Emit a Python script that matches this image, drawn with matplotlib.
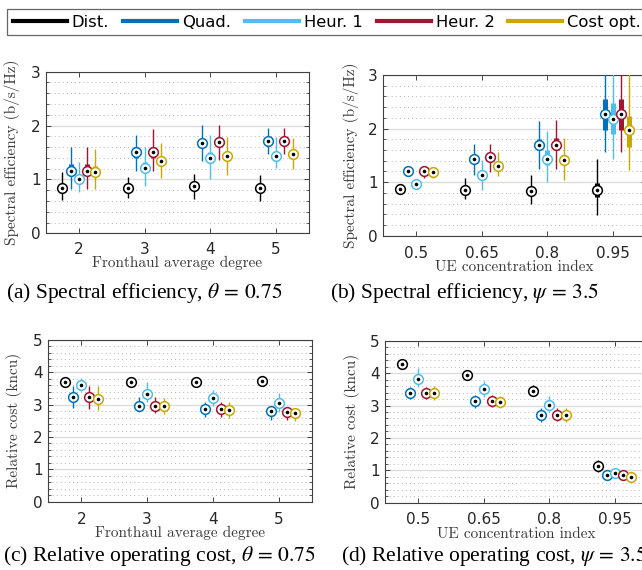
import matplotlib
matplotlib.use('Agg')
import matplotlib.pyplot as plt
from matplotlib.lines import Line2D
from matplotlib.ticker import MultipleLocator, NullLocator
import numpy as np

plt.rcParams['mathtext.fontset'] = 'stix'

# ---------------- data ----------------
methods = ['Dist.', 'Quad.', 'Heur. 1', 'Heur. 2', 'Cost opt.']
colors = ['#000000', '#0072BD', '#4DBEEE', '#A2142F', '#C9A800']

degree_ticks = [2, 3, 4, 5]
concentration_labels = ['0.5', '0.65', '0.8', '0.95']

# (a) spectral efficiency vs fronthaul degree  (rows: methods, cols: degree)
a_med = [[0.85, 0.84, 0.88, 0.85], [1.16, 1.51, 1.68, 1.72], [1.00, 1.22, 1.40, 1.44],
         [1.16, 1.51, 1.69, 1.72], [1.13, 1.34, 1.44, 1.47]]
a_q1 = [[0.80, 0.80, 0.83, 0.80], [1.09, 1.39, 1.62, 1.66], [0.94, 1.16, 1.33, 1.39],
        [1.09, 1.39, 1.63, 1.66], [1.07, 1.28, 1.38, 1.41]]
a_q3 = [[0.90, 0.89, 0.93, 0.90], [1.29, 1.60, 1.74, 1.78], [1.06, 1.32, 1.51, 1.50],
        [1.29, 1.60, 1.75, 1.78], [1.25, 1.40, 1.50, 1.53]]
a_lo = [[0.62, 0.65, 0.63, 0.60], [0.83, 1.16, 1.34, 1.47], [0.76, 0.87, 1.00, 1.22],
        [0.83, 1.16, 1.36, 1.48], [0.82, 1.03, 1.09, 1.20]]
a_hi = [[1.14, 1.05, 1.11, 1.08], [1.60, 1.82, 2.01, 1.95], [1.33, 1.60, 1.83, 1.79],
        [1.60, 1.94, 2.01, 1.95], [1.56, 1.68, 1.79, 1.77]]

# (b) spectral efficiency vs UE concentration index
b_med = [[0.87, 0.85, 0.83, 0.86], [1.21, 1.44, 1.69, 2.28], [0.96, 1.13, 1.44, 2.18],
         [1.21, 1.46, 1.69, 2.28], [1.19, 1.31, 1.41, 1.98]]
b_q1 = [[0.84, 0.80, 0.78, 0.73], [1.17, 1.38, 1.60, 1.97], [0.92, 1.07, 1.32, 1.90],
        [1.17, 1.40, 1.60, 1.97], [1.15, 1.25, 1.34, 1.65]]
b_q3 = [[0.90, 0.90, 0.88, 0.99], [1.25, 1.50, 1.81, 2.55], [1.00, 1.19, 1.60, 2.47],
        [1.25, 1.52, 1.82, 2.55], [1.23, 1.37, 1.50, 2.23]]
b_lo = [[0.83, 0.68, 0.59, 0.39], [1.15, 1.13, 1.24, 1.57], [0.91, 0.85, 1.01, 1.43],
        [1.08, 1.19, 1.24, 1.57], [1.07, 1.11, 1.04, 1.23]]
b_hi = [[0.91, 1.07, 1.13, 1.43], [1.27, 1.71, 2.14, 3.30], [1.01, 1.41, 1.95, 3.30],
        [1.29, 1.71, 2.16, 3.30], [1.26, 1.56, 1.82, 3.30]]

# (c) relative operating cost vs fronthaul degree
c_med = [[3.71, 3.71, 3.71, 3.72], [3.25, 2.97, 2.87, 2.79], [3.62, 3.33, 3.20, 3.06],
         [3.25, 2.97, 2.86, 2.77], [3.18, 2.95, 2.84, 2.74]]
c_q1 = [[3.68, 3.68, 3.68, 3.69], [3.18, 2.91, 2.81, 2.73], [3.56, 3.27, 3.14, 3.00],
        [3.18, 2.91, 2.80, 2.71], [3.12, 2.89, 2.78, 2.68]]
c_q3 = [[3.74, 3.74, 3.74, 3.75], [3.32, 3.03, 2.93, 2.85], [3.68, 3.39, 3.26, 3.12],
        [3.32, 3.03, 2.92, 2.83], [3.24, 3.01, 2.90, 2.80]]
c_lo = [[3.66, 3.66, 3.66, 3.67], [2.89, 2.77, 2.61, 2.54], [3.43, 3.09, 2.97, 2.77],
        [2.87, 2.74, 2.61, 2.54], [2.84, 2.72, 2.59, 2.51]]
c_hi = [[3.76, 3.76, 3.76, 3.77], [3.59, 3.23, 3.07, 2.94], [3.82, 3.69, 3.46, 3.35],
        [3.59, 3.23, 3.09, 2.90], [3.58, 3.21, 3.07, 2.90]]

# (d) relative operating cost vs UE concentration index
d_med = [[4.28, 3.94, 3.46, 1.14], [3.40, 3.14, 2.72, 0.85], [3.81, 3.50, 3.02, 0.92],
         [3.40, 3.14, 2.72, 0.86], [3.40, 3.12, 2.70, 0.79]]
d_q1 = [[4.25, 3.91, 3.40, 1.08], [3.34, 3.08, 2.66, 0.82], [3.75, 3.44, 2.96, 0.89],
        [3.34, 3.08, 2.66, 0.83], [3.34, 3.06, 2.64, 0.76]]
d_q3 = [[4.31, 3.97, 3.52, 1.20], [3.46, 3.20, 2.78, 0.88], [3.87, 3.56, 3.08, 0.95],
        [3.46, 3.20, 2.78, 0.89], [3.46, 3.18, 2.76, 0.82]]
d_lo = [[4.22, 3.88, 3.29, 0.96], [3.19, 2.91, 2.50, 0.80], [3.58, 3.27, 2.81, 0.87],
        [3.19, 2.94, 2.52, 0.81], [3.17, 2.91, 2.50, 0.74]]
d_hi = [[4.34, 4.00, 3.63, 1.32], [3.58, 3.32, 2.91, 0.90], [4.15, 3.76, 3.29, 0.97],
        [3.58, 3.31, 2.91, 0.91], [3.60, 3.29, 2.91, 0.84]]

# ---------------- styling ----------------
W, H = 642, 570
fig = plt.figure(figsize=(W / 100, H / 100), dpi=100)
offsets = [-0.25, -0.125, 0.0, 0.125, 0.25]
TICK_COLOR = '#262626'
LABEL_FONT = 'cmr10'


def px_axes(left, top, right, bottom):
    return fig.add_axes([left / W, 1 - bottom / H, (right - left) / W, (bottom - top) / H])


def draw_panel(ax, xs, med, q1, q3, lo, hi, ymax, xticklabels, xlabel, ylabel,
               xlab_y, ylab_x, tickpad):
    xs = np.asarray(xs, dtype=float)
    for m in range(len(methods)):
        pos = xs + offsets[m]
        c = colors[m]
        ax.vlines(pos, lo[m], hi[m], color=c, lw=1.0, zorder=3)
        ax.vlines(pos, q1[m], q3[m], color=c, lw=3.6, zorder=4)
        ax.plot(pos, med[m], 'o', ms=7, mfc='white', mec=c, mew=1.1, zorder=5)
        ax.plot(pos, med[m], 'o', ms=2.6, color='black', mew=0, zorder=6)
    ax.set_xlim(xs[0] - 0.5, xs[-1] + 0.5)
    ax.set_ylim(0, ymax)
    ax.set_xticks(xs)
    ax.set_xticklabels(xticklabels)
    ax.xaxis.set_minor_locator(NullLocator())
    ax.yaxis.set_major_locator(MultipleLocator(1))
    ax.yaxis.set_minor_locator(MultipleLocator(0.2))
    ax.grid(which='major', axis='y', color='#dcdcdc', lw=1.0, ls='-', zorder=0)
    ax.grid(which='minor', axis='y', color='#b4b4b4', lw=0.7, ls=(0, (1, 3.2)), zorder=0)
    ax.set_axisbelow(True)
    ax.tick_params(which='both', direction='in', top=True, right=True,
                   colors='#404040', labelcolor=TICK_COLOR, labelsize=11)
    ax.tick_params(which='major', length=3.5, width=0.7)
    ax.tick_params(which='minor', length=2, width=0.6)
    ax.tick_params(axis='x', pad=tickpad)
    ax.tick_params(axis='y', pad=4)
    for s in ax.spines.values():
        s.set_color('#404040')
        s.set_linewidth(0.8)
    ax.set_xlabel(xlabel, family=LABEL_FONT, fontsize=11, color='#3a3a3a')
    ax.set_ylabel(ylabel, family=LABEL_FONT, fontsize=11, color='#3a3a3a')
    ax.xaxis.set_label_coords(0.5, xlab_y)
    ax.yaxis.set_label_coords(ylab_x, 0.5)


ax_a = px_axes(46, 71.7, 309, 233.3)
draw_panel(ax_a, degree_ticks, a_med, a_q1, a_q3, a_lo, a_hi, 3,
           [str(v) for v in degree_ticks], 'Fronthaul average degree',
           'Spectral efficiency (b/s/Hz)', -0.14, -0.10, 6)

ax_b = px_axes(383.3, 75, 645.7, 235.7)
draw_panel(ax_b, [1, 2, 3, 4], b_med, b_q1, b_q3, b_lo, b_hi, 3,
           concentration_labels, 'UE concentration index',
           'Spectral efficiency (b/s/Hz)', -0.155, -0.094, 7.5)

ax_c = px_axes(48.3, 340, 311.7, 501.7)
draw_panel(ax_c, degree_ticks, c_med, c_q1, c_q3, c_lo, c_hi, 5,
           [str(v) for v in degree_ticks], 'Fronthaul average degree',
           'Relative cost (kncu)', -0.15, -0.10, 7.5)

ax_d = px_axes(385.3, 340.7, 647.6, 502.7)
draw_panel(ax_d, [1, 2, 3, 4], d_med, d_q1, d_q3, d_lo, d_hi, 5,
           concentration_labels, 'UE concentration index',
           'Relative cost (kncu)', -0.15, -0.096, 6.5)

# captions
cap_kw = dict(family='Liberation Serif', fontsize=15.5, color='black', va='center', ha='left')
fig.text(6 / W, 1 - 293 / H, r'(a) Spectral efficiency, $\theta\,=\,0.75$', **cap_kw)
fig.text(330 / W, 1 - 293 / H, r'(b) Spectral efficiency, $\psi\,=\,3.5$', **cap_kw)
fig.text(3 / W, 1 - 556 / H, r'(c) Relative operating cost, $\theta\,=\,0.75$', **cap_kw)
fig.text(341 / W, 1 - 556 / H, r'(d) Relative operating cost, $\psi\,=\,3.5$', **cap_kw)

# legend
handles = [Line2D([], [], color=c, lw=3) for c in colors]
leg = fig.legend(handles, methods, loc='upper left', bbox_to_anchor=(7 / W, 1 - 9 / H),
                 ncol=5, frameon=True, fancybox=False, edgecolor='#404040', fontsize=11.8,
                 handlelength=3.3, handletextpad=0.3, columnspacing=0.85, borderpad=0.35,
                 borderaxespad=0)
leg.get_frame().set_linewidth(0.9)

fig.savefig('out.png', dpi=100)
